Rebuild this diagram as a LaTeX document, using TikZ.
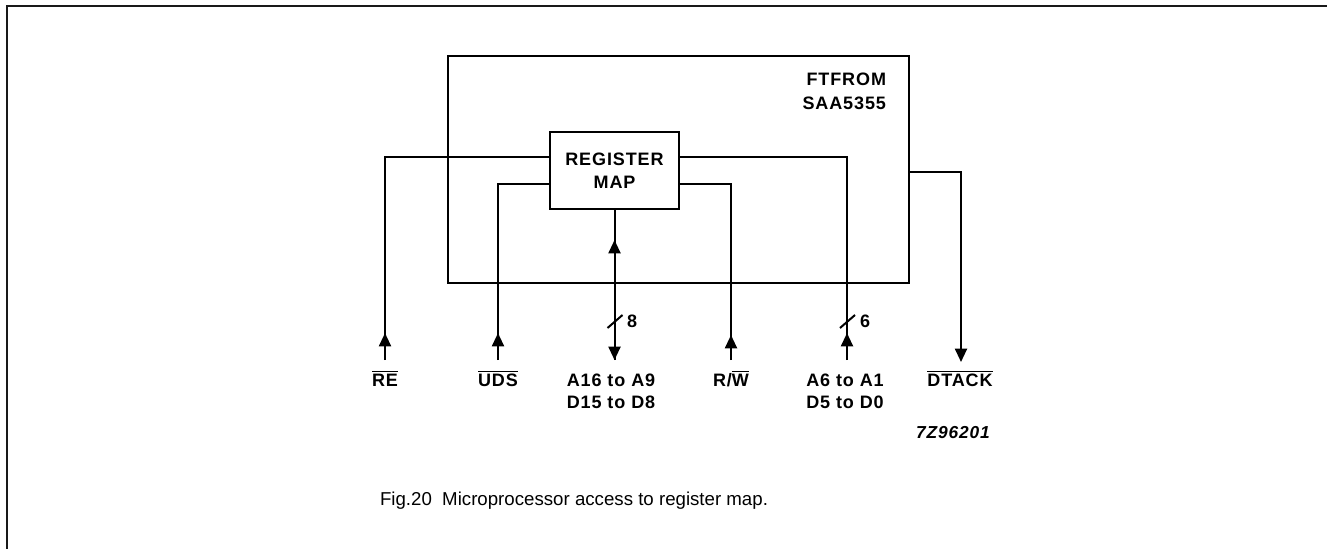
\documentclass[tikz,border=0pt]{standalone}
\usepackage{fontspec}
\setmainfont{Liberation Sans}
\newfontfamily\pinfont[LetterSpace=5]{Liberation Sans}
\usetikzlibrary{arrows.meta}

\begin{document}
\begin{tikzpicture}[x=0.75pt,y=-0.75pt,line width=1.5pt,
  pin/.style={font=\pinfont\bfseries\fontsize{13.5}{16.5}\selectfont,inner sep=0pt},
  tip/.style={-{Triangle[length=10pt,width=9pt]}},
  box/.style={draw,inner sep=0pt}]
  \useasboundingbox (0,0) rectangle (1327,549);
  \draw[gray!20!black] (7,549) -- (7,6) -- (1327,6);
  %\draw (448,56) rectangle (909,283);
  \node[box,minimum width=345.75pt,minimum height=170.25pt] (chip) at (678.5,169.5) {};
  \node[pin,align=right,anchor=north east,font=\pinfont\bfseries\fontsize{13.5}{18}\selectfont] (ftfrom) at (887,72) {FTFROM\\SAA5355};
  \node[box,minimum width=96.75pt,minimum height=57.75pt,align=center,font=\pinfont\bfseries\fontsize{13.5}{17}\selectfont] (regmap) at (614.5,170.5) {REGISTER\\MAP};
  \coordinate (reE) at (385,360);
  \coordinate (udsE) at (498,360);
  \coordinate (busE) at (614.5,360);
  \coordinate (rwE) at (731,360);
  \coordinate (loE) at (847,360);
  \coordinate (dtE) at (961,362);
  \draw ([yshift=10pt]regmap.west) -| (reE);
  \draw ([yshift=-10pt]regmap.west) -| (udsE);
  \draw ([yshift=10pt]regmap.east) -| (loE);
  \draw ([yshift=-10pt]regmap.east) -| (rwE);
  \draw[tip] (regmap.south) -- (busE);
  \draw[tip] ([yshift=-2pt]chip.east) -| (dtE);
  \foreach \p/\d in {reE/27,udsE/27,rwE/25,loE/27}
    \draw[tip] (\p) -- ++(0,-\d);
  \draw[tip] (busE) -- ++(0,-120);
  \draw ([shift={(-7,-32)}]busE) -- ++(15,-13);
  \draw ([shift={(-7,-32)}]loE) -- ++(15,-13);
  \node[pin,anchor=west] (w8) at (626,321) {8};
  \node[pin,anchor=west] (w6) at (859,321) {6};
  \node[pin,anchor=base] (re) at (385,386) {$\overline{\mbox{RE}}$};
  \node[pin,anchor=base] (uds) at (498,386) {$\overline{\mbox{UDS}}$};
  \node[pin,anchor=north,align=center] (ahi) at (611,373) {A16 to A9\\D15 to D8};
  \node[pin,anchor=base] (rw) at (731,386) {R/$\overline{\mbox{W}}$};
  \node[pin,anchor=north,align=center] (alo) at (845,373) {A6 to A1\\D5 to D0};
  \node[pin,anchor=base] (dtack) at (960,386) {$\overline{\mbox{DTACK}}$};
  \node[pin,anchor=base,font=\pinfont\bfseries\itshape\fontsize{13}{16}\selectfont] (code) at (953,438) {7Z96201};
  \node[anchor=base,font=\fontsize{14}{17}\selectfont] (caption) at (574,505) {Fig.20\ \ Microprocessor access to register map.};
\end{tikzpicture}
\end{document}
